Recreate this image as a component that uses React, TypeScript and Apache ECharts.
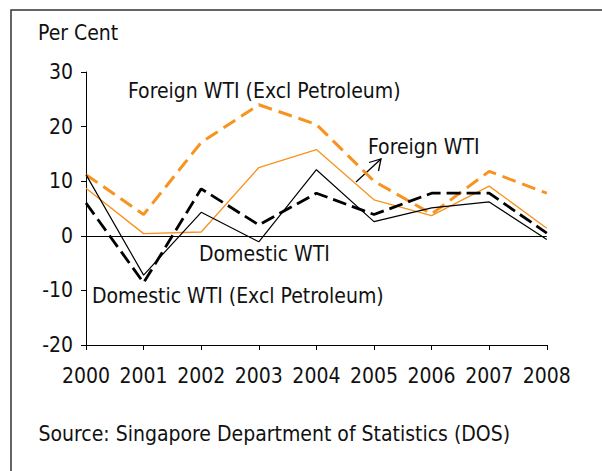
import React, { useEffect, useRef } from "react";
import * as echarts from "echarts";

const years = ["2000", "2001", "2002", "2003", "2004", "2005", "2006", "2007", "2008"];
const foreignWTI = [8.7, 0.4, 0.7, 12.5, 15.8, 6.6, 3.7, 9.1, 1.4];
const foreignWTIExcl = [11.2, 3.9, 17.1, 24.0, 20.4, 10.0, 4.0, 11.8, 7.8];
const domesticWTI = [11.2, -7.2, 4.3, -1.1, 12.1, 2.6, 5.1, 6.2, -0.7];
const domesticWTIExcl = [6.0, -8.6, 8.6, 2.0, 7.8, 3.9, 7.8, 7.8, 0.5];

const ORANGE = "#F7931E";
const FONT = "'DejaVu Sans Condensed', 'Liberation Sans', sans-serif";
const FS = 21;

export default function App() {
  const ref = useRef<HTMLDivElement>(null);
  useEffect(() => {
    if (!ref.current) return;
    const chart = echarts.init(ref.current, null, { renderer: "svg" });
    const txt = (text: string, x: number, y: number) => ({
      type: "text",
      x,
      y,
      style: { text, fill: "#111", font: `${FS}px ${FONT}`, verticalAlign: "middle", align: "left" },
      silent: true,
    });
    chart.setOption({
      animation: false,
      backgroundColor: "#fff",
      grid: { left: 86, top: 72, width: 460.8, height: 273, containLabel: false },
      xAxis: {
        type: "category",
        data: years,
        boundaryGap: false,
        axisLine: { onZero: false, lineStyle: { color: "#000", width: 1 } },
        axisTick: { show: true, length: 5, inside: false, lineStyle: { color: "#000" } },
        axisLabel: { color: "#111", fontSize: FS, fontFamily: FONT, margin: 20, interval: 0 },
        splitLine: { show: false },
      },
      yAxis: {
        type: "value",
        min: -20,
        max: 30,
        interval: 10,
        axisLine: { show: true, lineStyle: { color: "#000", width: 1 } },
        axisTick: { show: true, length: 5, lineStyle: { color: "#000" } },
        axisLabel: { color: "#111", fontSize: FS, fontFamily: FONT, margin: 13 },
        splitLine: { show: false },
      },
      series: [
        {
          name: "Foreign WTI",
          type: "line",
          data: foreignWTI,
          symbol: "none",
          lineStyle: { color: ORANGE, width: 1.3 },
          z: 2,
          markLine: {
            silent: true,
            symbol: ["none", "none"],
            label: { show: false },
            lineStyle: { color: "#000", width: 1, type: "solid" },
            data: [{ yAxis: 0 }],
          },
        },
        {
          name: "Foreign WTI (Excl Petroleum)",
          type: "line",
          data: foreignWTIExcl,
          symbol: "none",
          lineStyle: { color: ORANGE, width: 3, type: [14, 7] },
          z: 3,
        },
        {
          name: "Domestic WTI",
          type: "line",
          data: domesticWTI,
          symbol: "none",
          lineStyle: { color: "#000", width: 1.2 },
          z: 4,
        },
        {
          name: "Domestic WTI (Excl Petroleum)",
          type: "line",
          data: domesticWTIExcl,
          symbol: "none",
          lineStyle: { color: "#000", width: 2.8, type: [14, 6] },
          z: 5,
        },
      ],
      graphic: [
        {
          type: "rect",
          shape: { x: 11, y: 10, width: 640, height: 520 },
          style: { fill: "none", stroke: "#333", lineWidth: 1.5 },
          silent: true,
        },
        txt("Per Cent", 38, 33),
        txt("Foreign WTI (Excl Petroleum)", 128, 91),
        txt("Foreign WTI", 368, 147),
        txt("Domestic WTI", 199, 254),
        txt("Domestic WTI (Excl Petroleum)", 92, 296),
        txt("Source: Singapore Department of Statistics (DOS)", 38.5, 434),
        {
          type: "line",
          shape: { x1: 356, y1: 182, x2: 381, y2: 159 },
          style: { stroke: "#000", lineWidth: 1.3 },
          silent: true,
        },
        {
          type: "polyline",
          shape: { points: [[369, 162.5], [381, 159], [378.5, 171]] },
          style: { stroke: "#000", lineWidth: 1.3, fill: "none" },
          silent: true,
        },
      ],
    });
    return () => chart.dispose();
  }, []);
  return <div ref={ref} style={{ width: 602, height: 471, position: "absolute", left: 0, top: 0 }} />;
}
